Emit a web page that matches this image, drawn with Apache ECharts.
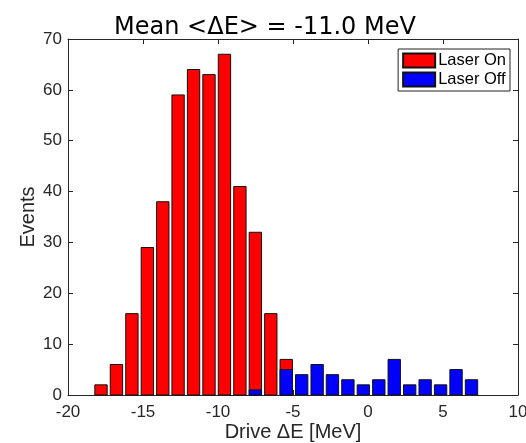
<!DOCTYPE html>
<html>
<head>
<meta charset="utf-8">
<script src="https://cdn.jsdelivr.net/npm/echarts@6/dist/echarts.min.js"></script>
<style>html,body{margin:0;padding:0;background:#fff;}#c{width:526px;height:443px;}</style>
</head>
<body>
<div id="c"></div>
<script>
var binCenters = [-17.80,-16.77,-15.74,-14.71,-13.68,-12.66,-11.63,-10.60,-9.57,-8.54,-7.51,-6.48,-5.45,-4.42,-3.39,-2.37,-1.34,-0.31,0.72,1.75,2.78,3.81,4.84,5.87,6.90];
var laserOn  = [2,6,16,29,38,59,64,63,67,41,32,16,7,0,0,0,0,0,0,0,0,0,0,0,0];
var laserOff = [0,0,0,0,0,0,0,0,0,0,1,0,5,4,6,4,3,2,3,7,2,3,2,5,3];
var xTicks = [-20,-15,-10,-5,0,5,10];
var yTicks = [0,10,20,30,40,50,60,70];

var binWidth = 1.029, barFrac = 0.8;
function pairs(vals){
  var out=[];
  for(var i=0;i<binCenters.length;i++){ if(vals[i]>0) out.push([binCenters[i], vals[i]]); }
  return out;
}
function render(color){
  return function(params, api){
    var x=api.value(0), y=api.value(1), h=binWidth*barFrac/2;
    var p1=api.coord([x-h,y]), p2=api.coord([x+h,0]);
    return {type:'rect', shape:{x:p1[0], y:p1[1], width:p2[0]-p1[0], height:p2[1]-p1[1]},
      style:{fill:color, stroke:'#111', lineWidth:1}};
  };
}
var axisCol = '#262626';
var font = 'Liberation Sans, Arial, Helvetica, sans-serif';
function xa(pos, show){
  return {type:'value', position:pos, min:-20, max:10, interval:5,
    axisLine:{show:true, onZero:false, lineStyle:{color:axisCol, width:1}},
    axisTick:{show:true, inside:true, length:5, lineStyle:{color:axisCol}},
    axisLabel:{show:show, color:axisCol, fontSize:17, fontFamily:font, margin:9,
      formatter:function(v){return xTicks.indexOf(v)>=0 ? String(v) : '';}},
    splitLine:{show:false},
    name: show ? 'Drive \u0394E [MeV]' : '', nameLocation:'middle', nameGap:27, nameMoveOverlap:false,
    nameTextStyle:{color:axisCol, fontSize:20, fontFamily:font}};
}
function ya(pos, show){
  return {type:'value', position:pos, min:0, max:70, interval:10,
    axisLine:{show:true, onZero:false, lineStyle:{color:axisCol, width:1}},
    axisTick:{show:true, inside:true, length:5, lineStyle:{color:axisCol}},
    axisLabel:{show:show, color:axisCol, fontSize:17, fontFamily:font, margin:6,
      formatter:function(v){return yTicks.indexOf(v)>=0 ? String(v) : '';}},
    splitLine:{show:false},
    name: show ? 'Events' : '', nameLocation:'middle', nameGap:30, nameMoveOverlap:false,
    nameTextStyle:{color:axisCol, fontSize:20, fontFamily:font}};
}
var chart = echarts.init(document.getElementById('c'), null, {renderer:'canvas'});
chart.setOption({
  animation:false,
  backgroundColor:'#fff',
  title:{text:'Mean <\u0394E> = -11.0 MeV', left:260, textAlign:'center', top:11,
    textStyle:{color:'#000', fontSize:24, fontWeight:'normal', fontFamily:'DejaVu Sans, sans-serif'}},
  grid:{left:68, right:8, top:39, bottom:48, outerBoundsMode:'none', containLabel:false},
  xAxis:[xa('bottom', true), xa('top', false)],
  yAxis:[ya('left', true), ya('right', false)],
  legend:{orient:'vertical', right:16, top:49, itemWidth:32, itemHeight:14, itemGap:2,
    padding:[3,4,3,4], borderColor:'#222', borderWidth:1, backgroundColor:'#fff',
    textStyle:{color:'#000', fontSize:16.5, lineHeight:16.5, fontFamily:font, padding:[0,0,0,-2]},
    data:[{name:'Laser On', icon:'rect'},{name:'Laser Off', icon:'rect'}]},
  series:[
    {type:'custom', name:'Laser On', xAxisIndex:0, yAxisIndex:0, renderItem:render('#ff0000'),
      itemStyle:{color:'#ff0000', borderColor:'#111', borderWidth:1}, data:pairs(laserOn), encode:{x:0,y:1}},
    {type:'custom', name:'Laser Off', xAxisIndex:0, yAxisIndex:0, renderItem:render('#0000ff'),
      itemStyle:{color:'#0000ff', borderColor:'#111', borderWidth:1}, data:pairs(laserOff), encode:{x:0,y:1}}
  ]
});
</script>
</body>
</html>
